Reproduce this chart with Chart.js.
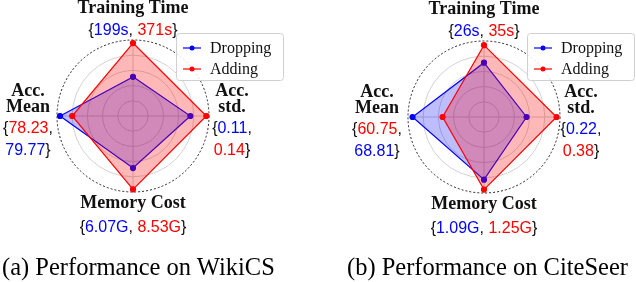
<!DOCTYPE html>
<html>
<head>
<meta charset="utf-8">
<script src="https://cdn.jsdelivr.net/npm/chart.js@4.4.1/dist/chart.umd.min.js"></script>
<style>
  html, body { margin: 0; padding: 0; background: #fff; }
  #wrap { position: relative; width: 636px; height: 282px; overflow: hidden; }
  .panel { position: absolute; top: 0; width: 318px; height: 282px; }
  .cap { position: absolute; top: 253px; font: 24.5px "Liberation Serif", serif; color: #000; white-space: nowrap; }
</style>
</head>
<body>
<div id="wrap">
  <div class="panel" style="left:0"><canvas id="c1" width="318" height="282"></canvas></div>
  <div class="panel" style="left:318px"><canvas id="c2" width="318" height="282"></canvas></div>
  <div class="cap" style="left:2px">(a) Performance on WikiCS</div>
  <div class="cap" style="left:347px">(b) Performance on CiteSeer</div>
</div>
<script>
// axes (clockwise from top)
const axisNames = ["Training Time", "Acc. std.", "Memory Cost", "Acc. Mean"];
const axisLines = [["Training Time"], ["Acc.", "std."], ["Memory Cost"], ["Acc.", "Mean"]];
const seriesNames = ["Dropping", "Adding"];

// normalised radius (outer ring = 1)
const wikiDropping = [0.515, 0.755, 0.685, 0.96];
const wikiAdding   = [0.96, 0.965, 0.965, 0.80];
const citeDropping = [0.715, 0.56, 0.825, 0.94];
const citeAdding   = [0.945, 0.955, 0.955, 0.545];

// raw numbers printed under each axis name
const wikiDroppingText = ["199s", "0.11", "6.07G", "79.77"];
const wikiAddingText   = ["371s", "0.14", "8.53G", "78.23"];
const citeDroppingText = ["26s", "0.22", "1.09G", "68.81"];
const citeAddingText   = ["35s", "0.38", "1.25G", "60.75"];

const BLUE = "#0000ff";
const RED = "#ff0000";
const INK = "#111";

function drawRuns(ctx, runs, x, y) {
  let w = 0;
  runs.forEach(r => { w += ctx.measureText(r[0]).width; });
  let px = x - w / 2;
  runs.forEach(r => {
    ctx.fillStyle = r[1];
    ctx.fillText(r[0], px, y);
    px += ctx.measureText(r[0]).width;
  });
}

// value lines for one axis: left axis lists Adding first
function valueLines(i, dTxt, aTxt) {
  const d = [dTxt[i], BLUE], a = [aTxt[i], RED];
  if (i === 0 || i === 2) return [[["{", INK], d, [", ", INK], a, ["}", INK]]];
  if (i === 1) return [[["{", INK], d, [",", INK]], [a, ["}", INK]]];
  return [[["{", INK], a, [",", INK]], [d, ["}", INK]]];
}

const labelPlugin = {
  id: "axisText",
  afterDraw(chart, args, opts) {
    const ctx = chart.ctx, sc = chart.scales.r;
    const cx = sc.xCenter, cy = sc.yCenter;
    ctx.save();
    ctx.textBaseline = "middle";
    const dist = [108, opts.rightDist, 87, opts.leftDist];
    axisLines.forEach((lines, i) => {
      const p = sc.getPointPosition(i, dist[i]);
      const vals = valueLines(i, opts.dTxt, opts.aTxt);
      let boldY, valY;
      if (i === 0) { boldY = [p.y]; valY = [p.y + 23]; }
      else if (i === 2) { boldY = [p.y]; valY = [p.y + 25]; }
      else { boldY = [p.y - 25, p.y - 9]; valY = [p.y + 13, p.y + 35]; }
      ctx.font = "bold 18px 'Liberation Serif', serif";
      lines.forEach((t, k) => drawRuns(ctx, [[t, INK]], p.x, boldY[k]));
      ctx.font = "16px 'Liberation Sans', Arial, sans-serif";
      vals.forEach((runs, k) => drawRuns(ctx, runs, p.x, valY[k]));
    });

    // legend box
    const bx = cx + 43.5, by = 33.5, bw = 107, bh = 47;
    ctx.beginPath();
    ctx.roundRect(bx, by, bw, bh, 3);
    ctx.fillStyle = "rgba(255,255,255,0.85)";
    ctx.fill();
    ctx.strokeStyle = "#d0d0d0";
    ctx.lineWidth = 1;
    ctx.stroke();
    ctx.font = "16px 'Liberation Serif', serif";
    [BLUE, RED].forEach((c, k) => {
      const ly = 48 + k * 21;
      ctx.strokeStyle = c;
      ctx.lineWidth = 1.2;
      ctx.beginPath();
      ctx.moveTo(cx + 50, ly);
      ctx.lineTo(cx + 68, ly);
      ctx.stroke();
      ctx.fillStyle = c;
      ctx.beginPath();
      ctx.arc(cx + 59, ly, 2.5, 0, Math.PI * 2);
      ctx.fill();
      ctx.fillStyle = INK;
      ctx.textAlign = "left";
      ctx.fillText(seriesNames[k], cx + 77, ly + 1);
    });
    ctx.restore();
  }
};

function radar(id, dropping, adding, dTxt, aTxt, pad, rightDist, leftDist) {
  new Chart(document.getElementById(id), {
    type: "radar",
    data: {
      labels: axisNames,
      datasets: [
        { label: seriesNames[1], data: adding, order: 0,
          borderColor: RED, backgroundColor: "rgba(255,0,0,0.28)", borderWidth: 1.2,
          pointBackgroundColor: RED, pointBorderColor: RED, pointRadius: 2.5, fill: true },
        { label: seriesNames[0], data: dropping, order: 1,
          borderColor: BLUE, backgroundColor: "rgba(0,0,255,0.26)", borderWidth: 1.2,
          pointBackgroundColor: BLUE, pointBorderColor: BLUE, pointRadius: 2.5, fill: true }
      ]
    },
    options: {
      responsive: false,
      animation: false,
      layout: { padding: pad },
      plugins: {
        legend: { display: false },
        tooltip: { enabled: false },
        axisText: { dTxt, aTxt, rightDist, leftDist }
      },
      scales: {
        r: {
          min: 0, max: 1,
          ticks: { display: false, stepSize: 0.2 },
          pointLabels: { display: false },
          angleLines: { color: "#cdcdcd", lineWidth: 1 },
          grid: {
            circular: true,
            color: c => c.index === 5 ? "#222" : "#d2d2d2",
            lineWidth: 1
          },
          border: { dash: c => c.index === 5 ? [2, 2] : [] }
        }
      }
    },
    plugins: [labelPlugin]
  });
}

radar("c1", wikiDropping, wikiAdding, wikiDroppingText, wikiAddingText,
  { left: 57, right: 109, top: 40, bottom: 90 }, 99, 105);
radar("c2", citeDropping, citeAdding, citeDroppingText, citeAddingText,
  { left: 90, right: 76, top: 41, bottom: 89 }, 97, 107);
</script>
</body>
</html>
